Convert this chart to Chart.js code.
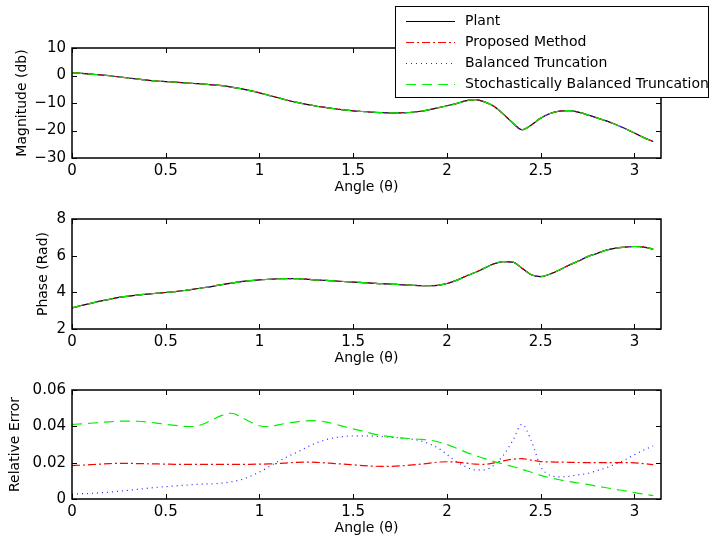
<!DOCTYPE html>
<html>
<head>
<meta charset="utf-8">
<script src="https://cdn.jsdelivr.net/npm/chart.js@4.4.1/dist/chart.umd.min.js"></script>
<style>
  html, body { margin: 0; padding: 0; background: #fff; }
  #wrap { position: relative; width: 715px; height: 548px; overflow: hidden; }
  .panel { position: absolute; left: 0; width: 715px; }
</style>
</head>
<body>
<div id="wrap">
  <div class="panel" style="top:0;height:196px"><canvas id="mag"></canvas></div>
  <div class="panel" style="top:199px;height:168px"><canvas id="phase"></canvas></div>
  <div class="panel" style="top:370px;height:167px"><canvas id="err"></canvas></div>
</div>
<script>
// ── Data ──

const angle = [
  0, 0.05, 0.1, 0.15, 0.2, 0.25, 0.3, 0.35, 0.4, 0.45,
  0.5, 0.55, 0.6, 0.65, 0.7, 0.75, 0.8, 0.85, 0.9, 0.95,
  1, 1.05, 1.1, 1.15, 1.2, 1.25, 1.3, 1.35, 1.4, 1.45,
  1.5, 1.55, 1.6, 1.65, 1.7, 1.75, 1.8, 1.85, 1.9, 1.95,
  2, 2.05, 2.1, 2.15, 2.2, 2.25, 2.3, 2.35, 2.4, 2.45,
  2.5, 2.55, 2.6, 2.65, 2.7, 2.75, 2.8, 2.85, 2.9, 2.95,
  3, 3.05, 3.1
]

// plant and the three reduced models overlap in the top two panels
const magnitude = [
  1.0, 0.8, 0.5, 0.2, -0.1, -0.5, -0.9, -1.3, -1.7, -2.0,
  -2.2, -2.4, -2.65, -2.9, -3.1, -3.4, -3.7, -4.2, -4.8, -5.5,
  -6.3, -7.2, -8.1, -9.0, -9.8, -10.5, -11.1, -11.6, -12.1, -12.5,
  -12.85, -13.1, -13.35, -13.5, -13.6, -13.6, -13.45, -13.1, -12.5, -11.8,
  -11.0, -10.2, -9.2, -8.75, -9.6, -11.2, -14.0, -17.2, -19.7, -18.0,
  -15.5, -13.8, -12.95, -12.75, -13.3, -14.3, -15.4, -16.5, -17.8, -19.3,
  -20.9, -22.6, -24.0
]

const phase = [
  3.15, 3.28, 3.40, 3.52, 3.62, 3.72, 3.79, 3.85, 3.90, 3.95,
  3.99, 4.04, 4.10, 4.17, 4.25, 4.33, 4.42, 4.50, 4.58, 4.64,
  4.68, 4.71, 4.74, 4.75, 4.74, 4.72, 4.68, 4.65, 4.62, 4.59,
  4.56, 4.53, 4.50, 4.47, 4.45, 4.42, 4.39, 4.37, 4.36, 4.38,
  4.48, 4.65, 4.88, 5.08, 5.32, 5.55, 5.67, 5.65, 5.32, 4.96,
  4.86, 5.00, 5.22, 5.48, 5.70, 5.95, 6.12, 6.30, 6.41, 6.47,
  6.50, 6.47, 6.36
]

const errProposed = [
  .0184, .0186, .0189, .0192, .0195, .0196, .0196, .0195, .0194, .0193,
  .0192, .0191, .0191, .0191, .0191, .0191, .0191, .0191, .0191, .0191,
  .0192, .0193, .0195, .0199, .0202, .0203, .0202, .0199, .0195, .0192,
  .0188, .0184, .0181, .0180, .0180, .0182, .0186, .0191, .0196, .0203,
  .0205, .0203, .0198, .0192, .0191, .0199, .0210, .0219, .0222, .0214,
  .0206, .0204, .0203, .0202, .0201, .0200, .0200, .0200, .0200, .0200,
  .0199, .0195, .0189
]

const errBalanced = [
  .0027, .0029, .0031, .0034, .0038, .0043, .0048, .0053, .0059, .0064,
  .0068, .0072, .0076, .0079, .0082, .0084, .0087, .0095, .0106, .0125,
  .0148, .0177, .0207, .0233, .0258, .0284, .0308, .0325, .0337, .0344,
  .0347, .0348, .0346, .0343, .0340, .0336, .0331, .0322, .0306, .0282,
  .0245, .0206, .0178, .0160, .0160, .0186, .0240, .0320, .0411, .0320,
  .0180, .0130, .0122, .0125, .0133, .0141, .0156, .0172, .0193, .0216,
  .0244, .0270, .0292
]

const errStochastic = [
  .0411, .0413, .0417, .0421, .0425, .0428, .0429, .0428, .0424, .0418,
  .0411, .0405, .0400, .0399, .0413, .0437, .0460, .0472, .0452, .0425,
  .0403, .0398, .0408, .0418, .0425, .0430, .0431, .0425, .0413, .0399,
  .0386, .0374, .0360, .0350, .0343, .0337, .0333, .0329, .0325, .0315,
  .0300, .0280, .0258, .0240, .0222, .0207, .0192, .0179, .0164, .0147,
  .0130, .0117, .0106, .0096, .0088, .0080, .0071, .0062, .0053, .0045,
  .0035, .0027, .0019
]

const xTicks = [0, 0.5, 1, 1.5, 2, 2.5, 3]
const magTicks = [-30, -20, -10, 0, 10]
const phaseTicks = [2, 4, 6, 8]
const errTicks = [0, 0.02, 0.04, 0.06]

const SERIES = [
  { label: 'Plant', color: '#000000', dash: [], order: 4 },
  { label: 'Proposed Method', color: '#ff0000', dash: [8, 3, 2, 3], order: 3 },
  { label: 'Balanced Truncation', color: '#2222ff', dash: [1, 4], order: 2 },
  { label: 'Stochastically Balanced Truncation', color: '#00ee00', dash: [10, 6], order: 1 },
]

const FONT = { family: '"DejaVu Sans", sans-serif', size: 14 }
const TICK_FONT = { family: '"DejaVu Sans", sans-serif', size: 15 }

// ── Helpers ──

function line(s, values) {
  return {
    label: s.label,
    data: angle.map((a, i) => ({ x: a, y: values[i] })),
    borderColor: s.color,
    borderDash: s.dash,
    borderWidth: 1.2,
    pointRadius: 0,
    cubicInterpolationMode: 'monotone',
    fill: false,
    order: s.order,
  }
}

const minus = v => String(v).replace('-', '\u2212')

// MATLAB-style box with inward ticks
const boxPlugin = {
  id: 'matlabBox',
  afterDatasetsDraw(chart) {
    const { ctx, chartArea: a, scales: { x, y } } = chart
    ctx.save()
    ctx.strokeStyle = '#000'
    ctx.lineWidth = 1.5
    ctx.setLineDash([])
    ctx.strokeRect(a.left, a.top, a.right - a.left, a.bottom - a.top)
    ctx.lineWidth = 1
    ctx.beginPath()
    x.ticks.forEach(t => {
      const px = Math.round(x.getPixelForValue(t.value)) + 0.5
      ctx.moveTo(px, a.bottom); ctx.lineTo(px, a.bottom - 5)
      ctx.moveTo(px, a.top); ctx.lineTo(px, a.top + 5)
    })
    y.ticks.forEach(t => {
      const py = Math.round(y.getPixelForValue(t.value)) + 0.5
      ctx.moveTo(a.left, py); ctx.lineTo(a.left + 5, py)
      ctx.moveTo(a.right, py); ctx.lineTo(a.right - 5, py)
    })
    ctx.stroke()
    ctx.restore()
  }
}

// legend box over the top-right of the first panel
const legendPlugin = {
  id: 'legendBox',
  afterDraw(chart) {
    const ctx = chart.ctx
    ctx.save()
    ctx.fillStyle = '#fff'
    ctx.fillRect(395, 6, 314, 91)
    ctx.strokeStyle = '#000'
    ctx.lineWidth = 1
    ctx.strokeRect(395.5, 6.5, 313, 91)
    ctx.font = `${FONT.size}px ${FONT.family}`
    ctx.textBaseline = 'middle'
    chart.data.datasets.forEach((ds, i) => {
      const y = Math.round(20.5 + i * 21.1) + 0.5
      ctx.strokeStyle = ds.borderColor
      ctx.lineWidth = ds.borderWidth
      ctx.setLineDash(ds.borderDash)
      ctx.beginPath()
      ctx.moveTo(406, y); ctx.lineTo(455, y)
      ctx.stroke()
      ctx.setLineDash([])
      ctx.fillStyle = '#000'
      ctx.fillText(ds.label, 465, y)
    })
    ctx.restore()
  }
}

function makePanel(id, datasets, yTicks, yTitle, padLeft, padTop, plugins) {
  return new Chart(document.getElementById(id), {
    type: 'line',
    data: { datasets },
    options: {
      responsive: true,
      maintainAspectRatio: false,
      animation: false,
      layout: { padding: { left: padLeft, top: padTop, right: 54, bottom: 0 } },
      plugins: { legend: { display: false }, tooltip: { enabled: false } },
      scales: {
        x: {
          type: 'linear',
          min: 0,
          max: Math.PI,
          afterBuildTicks: s => { s.ticks = xTicks.map(v => ({ value: v })) },
          afterFit: s => { s.height = 38 },
          grid: { display: false, drawTicks: false, tickLength: 0 },
          border: { display: false },
          ticks: { color: '#000', font: TICK_FONT, padding: 4, maxRotation: 0, autoSkip: false, callback: minus },
          title: { display: true, text: 'Angle (\u03b8)', color: '#000', font: FONT, padding: 0 },
        },
        y: {
          type: 'linear',
          min: yTicks[0],
          max: yTicks[yTicks.length - 1],
          afterBuildTicks: s => { s.ticks = yTicks.map(v => ({ value: v })) },
          afterFit: s => { s.width = 72 - padLeft },
          grid: { display: false, drawTicks: false, tickLength: 0 },
          border: { display: false },
          ticks: { color: '#000', font: TICK_FONT, padding: 6, autoSkip: false, callback: minus },
          title: { display: true, text: yTitle, color: '#000', font: FONT, padding: 0 },
        },
      },
    },
    plugins,
  })
}

// ── Panels ──

makePanel('mag', SERIES.map(s => line(s, magnitude)), magTicks, 'Magnitude (db)', 14, 48, [boxPlugin, legendPlugin])
makePanel('phase', SERIES.map(s => line(s, phase)), phaseTicks, 'Phase (Rad)', 35, 20, [boxPlugin])
makePanel('err', [
  line(SERIES[1], errProposed),
  line(SERIES[2], errBalanced),
  line(SERIES[3], errStochastic),
], errTicks, 'Relative Error', 7, 20, [boxPlugin])
</script>
</body>
</html>
